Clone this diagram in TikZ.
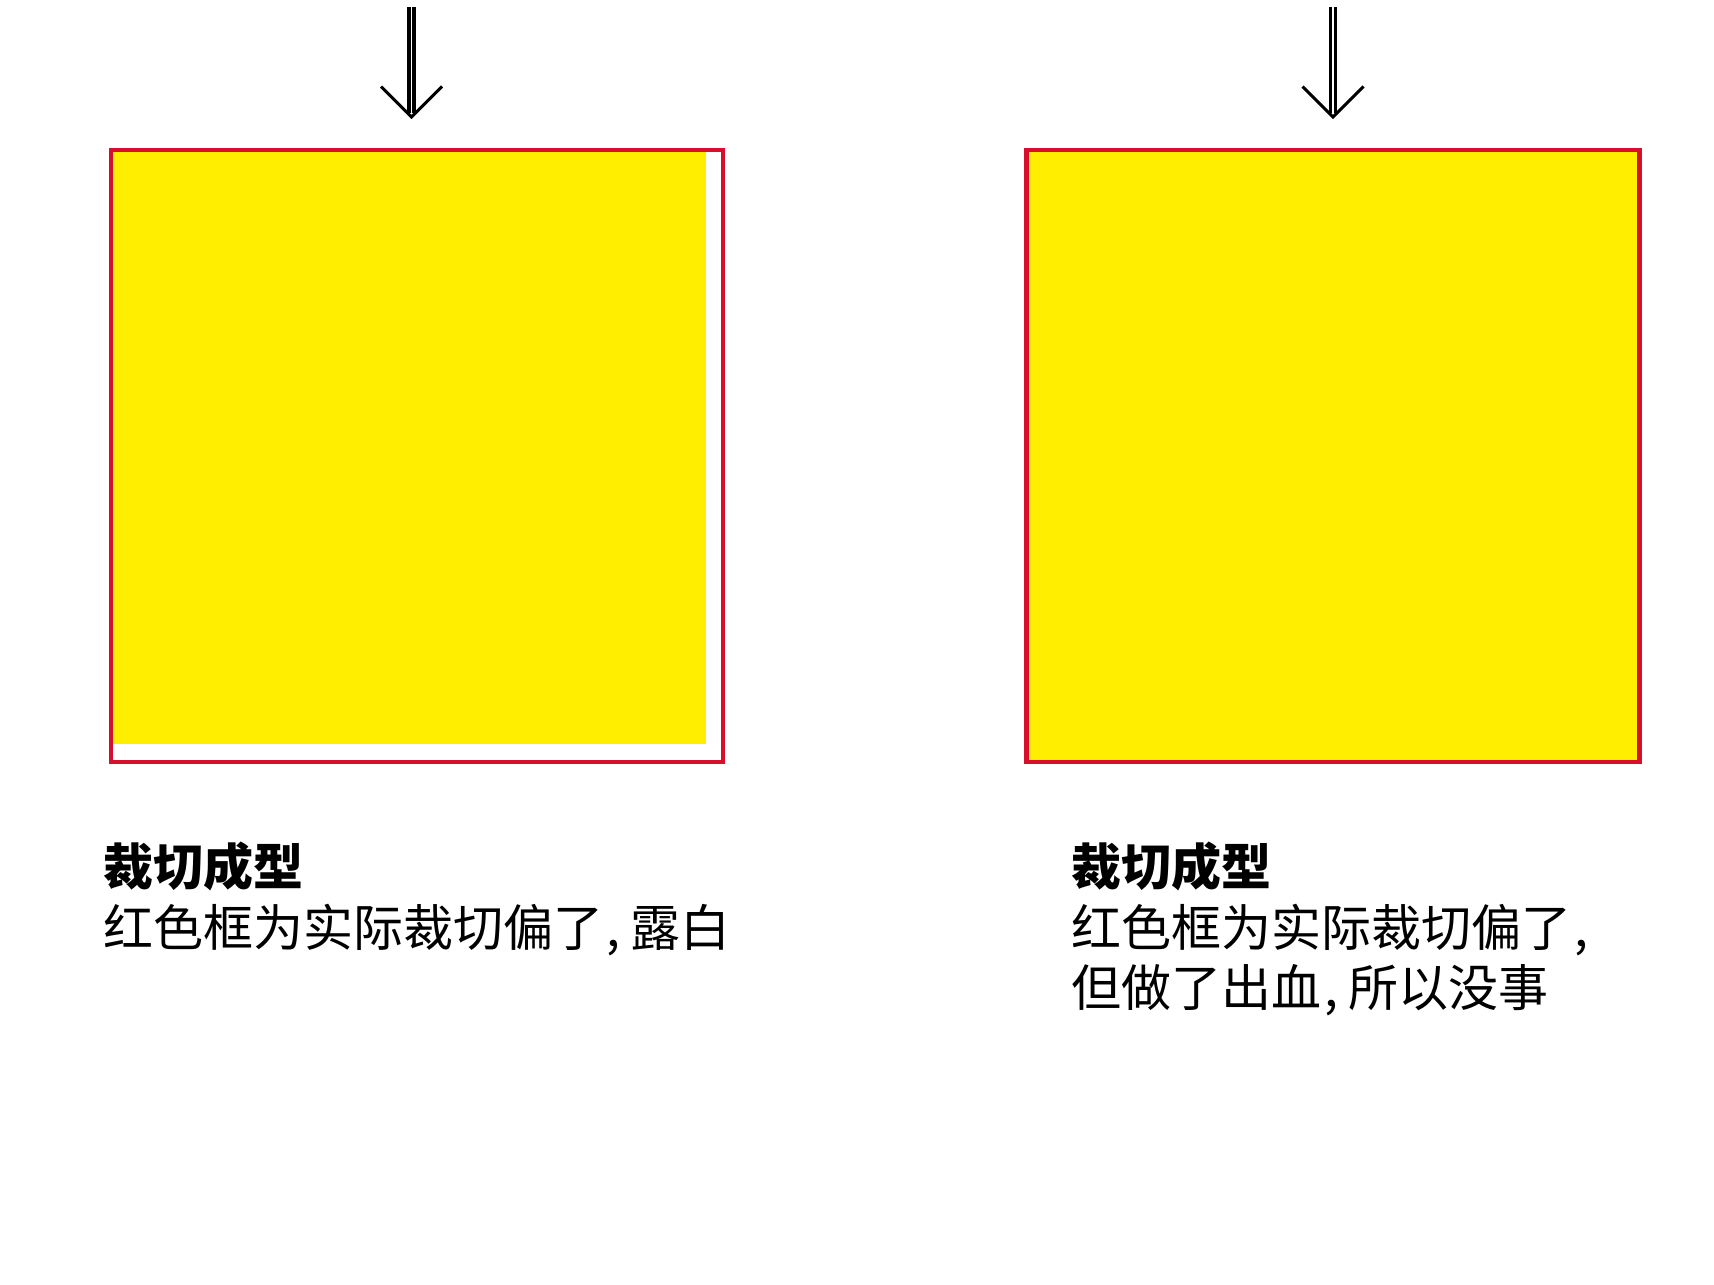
\documentclass[tikz,border=0pt]{standalone}
\usepackage{fontspec}
\newfontfamily\cjk{Noto Sans CJK SC}
\definecolor{cutred}{RGB}{215,15,45}
\definecolor{artyellow}{RGB}{255,238,0}
\newcommand{\cjkcomma}{\hspace{3pt},\hspace{10pt}}
\begin{document}
\begin{tikzpicture}[x=1pt,y=-1pt,
  cutframe/.style={draw=cutred, line width=4.3pt},
  artwork/.style={fill=artyellow},
  shaft/.style={draw=black, line width=3.5pt, double=white, double distance=1.5pt},
  barb/.style={draw=black, line width=3pt, line join=miter},
  titletext/.style={anchor=base west, inner sep=0pt, font=\cjk\bfseries\fontsize{50}{60}\selectfont},
  bodytext/.style={anchor=base west, inner sep=0pt, font=\cjk\fontsize{50}{60}\selectfont}]
\fill[white] (0,0) rectangle (1714,1285);
\useasboundingbox (0,0) rectangle (1714,1285);
% left panel
\fill[artwork] (111,150) rectangle (706,744);
\draw[cutframe] (111,150) rectangle (723,762);
% right panel
\fill[artwork] (1026.5,150) rectangle (1639.5,762);
\draw[cutframe] (1026.5,150) rectangle (1639.5,762);
% arrows
\coordinate (la0) at (411.5,7);
\coordinate (la1) at (411.5,113);
\coordinate (lt) at (411.5,117);
\draw[shaft] (la0) -- (la1);
\draw[barb] ([shift={(-30.5,-30.5)}]lt) -- (lt) -- ([shift={(30.5,-30.5)}]lt);
\coordinate (ra0) at (1333,7);
\coordinate (ra1) at (1333,113);
\coordinate (rt) at (1333,117);
\draw[shaft] (ra0) -- (ra1);
\draw[barb] ([shift={(-30.5,-30.5)}]rt) -- (rt) -- ([shift={(30.5,-30.5)}]rt);
% texts
\node[titletext] (lt1) at (103.5,885) {裁切成型};
\node[bodytext] (lb1) at (103.5,946) {红色框为实际裁切偏了\cjkcomma 露白};
\node[titletext] (rt1) at (1071,885) {裁切成型};
\node[bodytext] (rb1) at (1071,946) {红色框为实际裁切偏了\hspace{3pt},};
\node[bodytext] (rb2) at (1071,1006) {但做了出血\cjkcomma 所以没事};
\end{tikzpicture}
\end{document}
